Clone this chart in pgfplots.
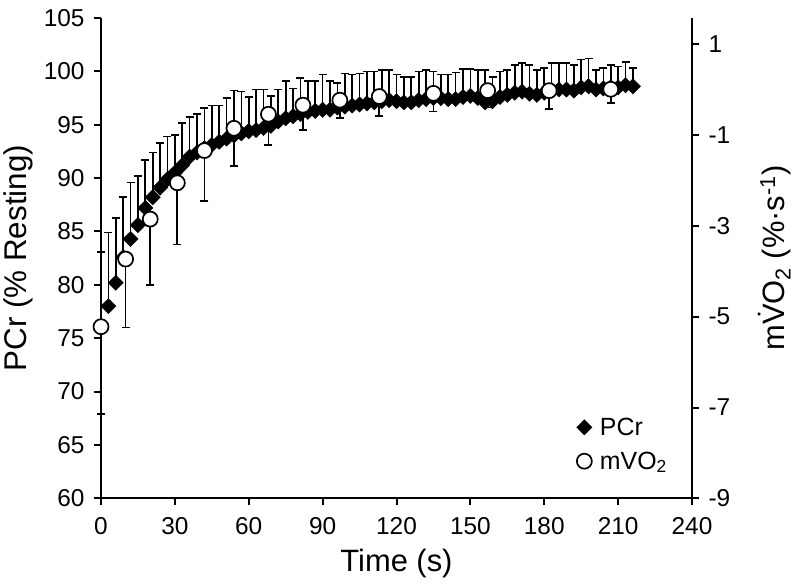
\documentclass[border=0pt]{standalone}
\usepackage{fontspec}
\setmainfont{Liberation Sans}
\usepackage{pgfplots}
\usepackage{pgfplotstable}
\pgfplotsset{compat=1.18}

\pgfplotstableread{
t v e
0 76.0 7.1
3 78.0 6.9
6 80.2 6.05
9 82.6 5.6
12 84.3 5.3
15 85.6 4.6
18 87.2 4.5
21 88.2 4.2
24 89.1 4.2
27 89.9 4.0
30 90.5 3.55
33 91.2 3.95
36 92.0 3.7
39 92.4 3.6
42 92.8 3.75
45 93.1 3.7
48 93.4 3.4
51 93.7 3.8
54 94.0 4.2
57 94.2 3.9
60 94.4 3.2
63 94.5 3.8
66 94.7 3.6
69 94.9 2.8
72 95.3 3.0
75 95.6 3.5
78 95.8 2.6
81 96.0 3.4
84 96.2 2.9
87 96.3 2.8
90 96.4 3.3
93 96.4 2.7
96 96.6 2.3
99 96.7 3.1
102 96.8 2.9
105 96.9 2.9
108 97.0 3.0
111 97.1 2.9
114 97.2 2.95
117 97.3 2.85
120 97.2 2.5
123 97.1 2.4
126 97.1 2.4
129 97.3 2.7
132 97.4 2.75
135 97.5 2.5
138 97.5 2.2
141 97.4 2.3
144 97.4 2.5
147 97.6 2.6
150 97.7 2.5
153 97.5 2.65
156 97.1 3.05
159 97.2 2.3
162 97.6 2.4
165 97.8 2.35
168 98.0 2.6
171 98.1 2.7
174 97.9 2.7
177 97.8 2.35
180 98.0 2.3
183 98.2 2.6
186 98.3 2.5
189 98.3 2.5
192 98.2 2.4
195 98.5 2.6
198 98.6 2.6
201 98.3 1.85
204 98.4 1.9
207 98.5 2.1
210 98.5 1.95
213 98.7 2.2
216 98.6 1.7
}\pcrtable

\pgfplotstableread{
t v e
0 -5.22 1.92
10 -3.73 1.51
20 -2.85 1.45
31 -2.05 1.36
42 -1.34 1.11
54 -0.85 0.83
68 -0.54 0.68
82 -0.34 0.55
97 -0.23 0.40
113 -0.15 0.43
135 -0.08 0.40
157 -0.02 0.37
182 -0.02 0.41
207 0.01 0.31
}\mvotable

\begin{document}
\begin{tikzpicture}
\pgfplotsset{
  common/.style={
    at={(0,0)}, anchor=south west,
    width=591bp, height=480.3bp, scale only axis,
    xmin=0, xmax=240, clip=false,
    tick align=outside,
    major tick length=7bp,
    every tick/.style={black, line width=2bp},
    axis line style={black, line width=2bp},
    ticklabel style={font=\fontsize{24.5}{27}\selectfont},
    /pgf/number format/assume math mode=true,
    error bars/error bar style={black, line width=1.7bp},
    error bars/error mark options={rotate=90, mark size=4bp, line width=1.7bp, black},
  }
}
\begin{axis}[common,
  axis x line*=bottom, axis y line*=left,
  ymin=60, ymax=105, ytick={60,65,...,105},
  xtick={0,30,...,240},
  yticklabel style={xshift=-6bp},
  xticklabel style={yshift=-9bp},
  every axis x label/.style={at={(axis description cs:0.5,0)}, anchor=base, yshift=-73.4bp, font=\fontsize{31}{34}\selectfont},
  every axis y label/.style={at={(axis description cs:-0.1261,0.5)}, rotate=90, anchor=base, font=\fontsize{31.5}{34}\selectfont},
  xlabel={Time (s)}, ylabel={PCr (\% Resting)},
]
\addplot[only marks, mark=square*, mark size=5.4bp,
  mark options={rotate=45, fill=black, draw=black, line width=0.4bp},
  error bars/.cd, y dir=plus, y explicit]
  table[x=t, y=v, y error=e] {\pcrtable};
\end{axis}
\begin{axis}[common,
  axis x line=none, axis y line*=right,
  ymin=-9, ymax=1.58, ytick={-9,-7,...,1},
  yticklabel style={xshift=6bp},
  every axis y label/.style={at={(axis description cs:1.1557,0.5)}, rotate=90, anchor=base, font=\fontsize{31}{34}\selectfont},
  ylabel={m\.{V}O\textsubscript{2} (\%\textperiodcentered s\textsuperscript{-1})},
  legend style={at={(axis description cs:0.8046,0.172)}, anchor=north west, draw=none, fill=none,
    font=\fontsize{25}{27}\selectfont, row sep=11bp, column sep=6bp, inner sep=0pt},
  legend cell align=left,
]
\addlegendimage{only marks, mark=square*, mark size=5.4bp, mark options={rotate=45, fill=black, draw=black, line width=0.4bp}}
\addlegendentry{PCr}
\addplot[only marks, mark=*, mark size=7.5bp,
  mark options={fill=white, draw=black, line width=1.7bp},
  error bars/.cd, y dir=minus, y explicit]
  table[x=t, y=v, y error=e] {\mvotable};
\addlegendentry{mVO\textsubscript{2}}
\end{axis}
\pgfresetboundingbox
\path[use as bounding box] (-101bp,-89.7bp) rectangle (701bp,498.3bp);
\end{tikzpicture}
\end{document}
